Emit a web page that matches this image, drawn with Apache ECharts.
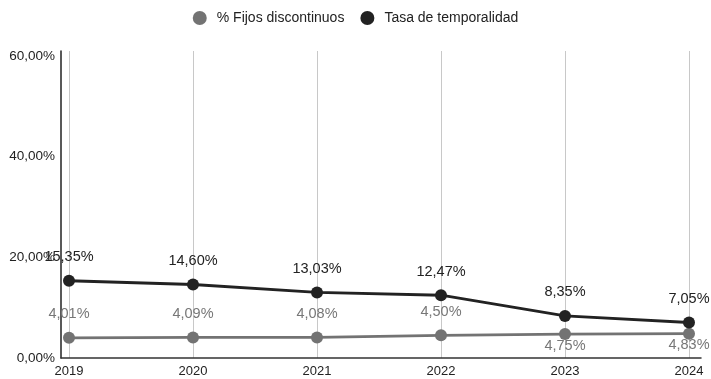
<!DOCTYPE html>
<html>
<head>
<meta charset="utf-8">
<script src="https://cdn.jsdelivr.net/npm/echarts@6/dist/echarts.min.js"></script>
<style>
  html, body { margin: 0; padding: 0; background: #fff; }
  #chart { width: 711px; height: 379px; }
</style>
</head>
<body>
<div id="chart"></div>
<script>
// Years on the horizontal axis
const years = ['2019', '2020', '2021', '2022', '2023', '2024'];
// Share of "fijos discontinuos" contracts (%)
const fijosDiscontinuos = [4.01, 4.09, 4.08, 4.50, 4.75, 4.83];
// Temporary employment rate (%)
const tasaTemporalidad = [15.35, 14.60, 13.03, 12.47, 8.35, 7.05];
// Value ticks shown on the vertical axis
const yTicks = [0, 20, 40, 60];

const FONT = '"Liberation Sans", Arial, sans-serif';
const fmtPct = v => v.toFixed(2).replace('.', ',') + '%';

const chart = echarts.init(document.getElementById('chart'), null, { renderer: 'canvas' });

chart.setOption({
  animation: false,
  backgroundColor: '#ffffff',
  textStyle: { fontFamily: FONT },
  legend: {
    top: 6,
    left: 'center',
    icon: 'circle',
    itemWidth: 14,
    itemHeight: 14,
    itemGap: 16,
    textStyle: { fontFamily: FONT, fontSize: 14, color: '#222', padding: [0, 0, 0, 5] },
    data: ['% Fijos discontinuos', 'Tasa de temporalidad']
  },
  grid: [
    // data grid: category positions from 2019 to 2024
    { left: 69, right: 22, top: 51, bottom: 21 },
    // frame grid: carries the longer axis lines
    { left: 61, right: 10, top: 51, bottom: 21 }
  ],
  xAxis: [
    {
      type: 'category',
      gridIndex: 0,
      data: years,
      boundaryGap: false,
      axisLine: { show: false },
      axisTick: { show: false },
      axisLabel: { fontFamily: FONT, fontSize: 13, color: '#222', margin: 7 },
      splitLine: { show: true, lineStyle: { color: '#c8c8c8', width: 1 } }
    },
    {
      type: 'value',
      gridIndex: 1,
      min: 0, max: 1,
      axisLine: { show: true, onZero: false, lineStyle: { color: '#333', width: 1.5 } },
      axisTick: { show: false },
      axisLabel: { show: false },
      splitLine: { show: false }
    }
  ],
  yAxis: [
    {
      type: 'value',
      gridIndex: 0,
      min: 0,
      max: 61,
      interval: 20,
      axisLine: { show: false },
      axisTick: { show: false },
      splitLine: { show: false },
      axisLabel: {
        fontFamily: FONT, fontSize: 13.5, color: '#222', margin: 14,
        formatter: v => yTicks.includes(v) ? fmtPct(v) : ''
      }
    },
    {
      type: 'value',
      gridIndex: 1,
      min: 0, max: 1,
      axisLine: { show: true, lineStyle: { color: '#222', width: 1.5 } },
      axisTick: { show: false },
      axisLabel: { show: false },
      splitLine: { show: false }
    }
  ],
  series: [
    {
      name: '% Fijos discontinuos',
      type: 'line',
      xAxisIndex: 0, yAxisIndex: 0,
      data: fijosDiscontinuos.map((v, i) => ({
        value: v,
        label: i >= 4 ? { position: 'bottom', distance: -2 } : { position: 'top', distance: 10 }
      })),
      color: '#737373',
      symbol: 'circle',
      symbolSize: 12,
      lineStyle: { width: 2.8, color: '#737373' },
      itemStyle: { color: '#737373' },
      label: {
        show: true,
        fontFamily: FONT, fontSize: 14.5, color: '#777',
        formatter: p => fmtPct(p.value)
      },
      z: 2
    },
    {
      name: 'Tasa de temporalidad',
      type: 'line',
      xAxisIndex: 0, yAxisIndex: 0,
      data: tasaTemporalidad,
      color: '#222222',
      symbol: 'circle',
      symbolSize: 12,
      lineStyle: { width: 2.8, color: '#222222' },
      itemStyle: { color: '#222222' },
      label: {
        show: true,
        position: 'top',
        distance: 10,
        fontFamily: FONT, fontSize: 14.5, color: '#222',
        formatter: p => fmtPct(p.value)
      },
      z: 3
    }
  ]
});
</script>
</body>
</html>
